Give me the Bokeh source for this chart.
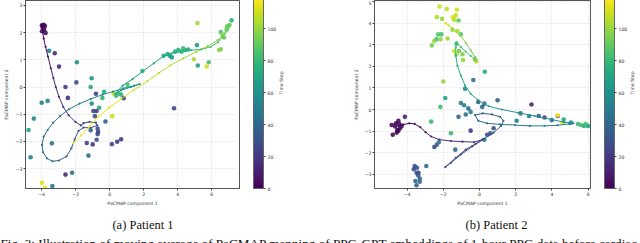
from bokeh.plotting import figure
from bokeh.models import (ColumnDataSource, LinearColorMapper, ColorBar, FixedTicker,
                          LinearAxis, Range1d, GlobalInlineStyleSheet)
from bokeh.layouts import column, row
from bokeh.palettes import Viridis256
from bokeh.core.properties import value
from bokeh.embed import file_html
from bokeh.resources import INLINE

T_LOW, T_HIGH = 0, 119
CB_TICKS = [0, 20, 40, 60, 80, 100]
X_TICKS = [-4, -2, 0, 2, 4, 6]
P1_Y_TICKS = [-3, -2, -1, 0, 1, 2, 3]
P2_Y_TICKS = [-3, -2, -1, 0, 1, 2, 3, 4, 5]

# ---------------- Patient 1 ----------------
p1_ma_x = [-3.98, -3.94, -3.88, -3.77, -3.63, -3.46, -3.31, -3.17, -2.98, -2.73, -2.41, -2.02, -1.69,
           -1.54, -1.19, -0.81, -0.73, -1.12, -1.54, -1.83, -2.06, -2.25, -2.54, -2.98, -3.37, -3.69,
           -3.92, -3.98, -3.88, -3.65, -3.33, -2.92, -2.41, -1.77, -1.12, -0.43, 0.19, 0.80, 1.44,
           1.76, 1.25, 0.67, 0.34, 0.76, 1.34, 1.92, 2.59, 3.17, 3.65, 4.22, 4.80, 5.38, 5.95, 6.37,
           6.62, 6.82, 7.01, 7.10, 6.95, 6.72, 6.34, 5.76, 5.09, 4.32, 3.55, 2.88, 2.21, 1.44, 0.67,
           -0.04, -0.68, -1.19, -1.69, -2.12]
p1_ma_y = [2.27, 2.02, 1.78, 1.48, 1.12, 0.69, 0.33, 0.00, -0.36, -0.73, -1.04, -1.28, -1.41,
           -1.33, -1.28, -1.31, -1.41, -1.50, -1.49, -1.61, -1.92, -2.25, -2.55, -2.70, -2.73, -2.62,
           -2.40, -2.13, -1.82, -1.58, -1.31, -1.07, -0.82, -0.61, -0.44, -0.28, -0.17, -0.05, 0.05,
           0.11, 0.00, -0.12, -0.24, 0.05, 0.29, 0.57, 0.87, 1.14, 1.24, 1.30, 1.36, 1.38, 1.48, 1.65,
           1.84, 2.06, 2.23, 2.30, 2.08, 1.90, 1.72, 1.50, 1.30, 1.05, 0.79, 0.51, 0.21, -0.10, -0.44,
           -0.76, -1.09, -1.45, -1.79, -2.06]
p1_ma_t = [0, 2, 4, 6, 8, 10, 12, 14, 16, 18, 20, 22, 24,
           26, 27, 28, 29, 30, 31, 32, 34, 36, 38, 40, 41, 42,
           43, 44, 45, 46, 47, 48, 49, 51, 53, 55, 57, 59, 61,
           62, 63, 64, 65, 66, 67, 68, 70, 72, 74, 76, 78, 80, 82, 84,
           86, 88, 90, 92, 94, 96, 98, 100, 102, 104, 106, 108, 110, 112, 114,
           115, 116, 117, 118, 119]

p1_pt_x = [-3.98, -3.88, -3.81, -3.94, -3.85, -3.77, -3.98,
           -3.56, -3.23, -2.98, -1.93, -1.96, -2.60, -2.46,
           -1.06, -1.12, -0.33, -0.43, -0.81, -0.62,
           -4.00, -3.65, -4.46, -4.77, -4.65, -3.40,
           -0.96, -0.77, -0.87, -0.71, -0.68, -0.71,
           -1.12, -0.25, -0.77, -1.35, -1.00, -1.25,
           -2.60, -2.21, -3.37, -3.98, -3.81,
           0.13, 0.44, 0.67, 0.15, 0.82, 0.23,
           3.78, 1.05, 1.92, 0.38, 0.53, 0.67,
           3.17, 3.40, 3.55, 3.65, 3.84, 4.03, 4.22, 4.42, 4.32, 4.61,
           5.13, 5.16, 7.16, 6.91, 7.03, 6.87, 6.53, 6.62, 6.72, 6.43, 6.53,
           4.95, 5.18, 5.82, 5.70, -1.06]
p1_pt_y = [2.27, 2.29, 2.24, 2.18, 2.11, 1.99, 2.05,
           1.33, 1.24, 0.75, 0.91, 0.17, 0.00, -0.40,
           0.32, 0.00, -0.18, -0.40, -0.25, -0.76,
           -0.58, -0.51, -1.16, -1.58, -2.58, -2.07,
           -0.88, -0.88, -1.07, -1.53, -1.65, -1.73,
           -1.59, -1.27, -1.94, -2.06, -2.11, -2.52,
           -3.22, -3.15, -3.64, -3.52, -3.70,
           -2.10, -2.01, -1.92, -1.07, -0.41, -0.25,
           -0.78, 0.08, 0.59, -0.32, -0.24, -0.28,
           1.15, 1.21, 1.14, 1.09, 1.30, 1.36, 1.30, 1.36, 1.42, 1.38,
           1.54, 2.35, 2.45, 2.23, 2.27, 2.15, 2.02, 1.93, 1.82, 1.36, 1.39,
           1.02, 0.79, 0.91, 0.75, -0.61]
p1_pt_t = [1, 2, 3, 0, 4, 5, 6,
           55, 12, 15, 60, 28, 20, 18,
           65, 72, 75, 78, 25, 74,
           52, 55, 55, 70, 52, 45,
           25, 22, 27, 30, 28, 26,
           38, 35, 32, 22, 20, 42,
           15, 45, 48, 112, 116,
           28, 22, 20, 110, 25, 108,
           25, 85, 80, 80, 82, 78,
           70, 72, 68, 66, 74, 76, 78, 75, 80, 72,
           65, 102, 78, 88, 92, 95, 86, 98, 90, 100, 96,
           104, 68, 84, 110, 58]

# ---------------- Patient 2 ----------------
p2_ma_x = [-4.48, -4.21, -3.88, -3.58, -3.27, -2.98, -2.67, -2.21, -1.58, -0.94, -0.31, 0.15,
           -0.22, -0.76, -1.31, -1.89, -1.58, -1.03, -0.40, 0.24, 0.78, 1.20, 1.32, 1.14, 0.69,
           0.18, -0.25, -0.07, 0.42, 1.14, 1.96, 2.78, 3.59, 4.32, 4.95, 5.19, 4.68, 3.96, 3.05,
           2.14, 1.23, 0.51, -0.07, -0.49, -0.80, -1.03, -1.22, -1.31, -1.31, -1.27, -1.03, -0.76,
           -0.49, -0.22, -0.25, -0.49, -0.76, -1.03, -1.31, -1.52, -1.71, -1.85, -1.89]
p2_ma_y = [-0.76, -0.70, -0.64, -0.67, -0.82, -1.05, -1.25, -1.40, -1.46, -1.49, -1.51, -1.40,
           -1.59, -1.86, -2.24, -2.67, -2.47, -2.09, -1.71, -1.37, -1.07, -0.76, -0.52, -0.34, -0.23,
           -0.18, -0.26, -0.52, -0.64, -0.69, -0.72, -0.76, -0.76, -0.73, -0.67, -0.64, -0.59, -0.46,
           -0.30, -0.15, 0.00, 0.15, 0.43, 0.73, 1.11, 1.57, 2.03, 2.48, 2.87, 3.09, 2.90, 2.68,
           2.48, 2.29, 2.44, 2.74, 3.09, 3.40, 3.63, 3.78, 3.90, 3.99, 4.02]
p2_ma_t = [0, 2, 4, 6, 8, 10, 12, 14, 16, 18, 20, 21,
           22, 23, 24, 25, 26, 27, 28, 30, 32, 34, 35, 36, 37,
           38, 39, 40, 42, 44, 46, 48, 50, 52, 54, 56, 58, 60, 62,
           64, 66, 68, 70, 71, 72, 74, 76, 78, 80, 82, 84, 86,
           88, 90, 92, 95, 98, 101, 104, 107, 110, 113, 116]

p2_pt_x = [-2.21, -1.81, -1.25, -2.36, -2.07, -1.49, -1.31, -1.40, -1.16,
           -2.29, -2.38, -2.11, -2.16, -2.63, -2.50, -1.76, -1.49, -1.22, -1.03,
           -1.27, -1.13, -0.94, -0.91, -1.27, -1.40, -0.25, -0.18,
           0.29, -0.34, -2.00, -0.80, -1.89, -2.16, -2.67,
           -1.03, -0.85, -0.62, -1.16, -0.76, -0.49, -0.07, 0.15, 0.27, 1.00,
           -0.49, -1.58, 2.87, 2.27, 2.74, 3.27, 3.59, 3.99, 4.32, 4.32, 4.59, 4.65,
           5.44, 5.59, 5.77, 5.99, 5.86, 5.05, 2.05,
           -4.85, -4.66, -4.54, -4.39, -4.61, -4.43, -4.79, -4.48, -4.30, -4.57, -4.48,
           -4.12, -2.49, -2.36, -2.25, -1.34, 0.27,
           -3.58, -3.45, -3.63, -3.48, -3.39, -3.30, -3.54, -3.30, -3.48, -3.37, -2.94,
           0.78, 0.60, 0.42]
p2_pt_y = [4.77, 4.66, 4.62, 4.28, 4.20, 4.27, 4.36, 4.16, 4.12,
           3.48, 3.25, 3.48, 3.25, 2.97, 3.17, 3.29, 3.70, 3.63, 3.48,
           3.05, 2.71, 2.56, 2.29, 2.56, 2.71, 2.33, 2.23,
           1.75, 1.37, 1.30, 0.96, 0.53, 0.12, -0.56,
           0.30, 0.20, 0.05, -0.34, -0.23, -0.11, 0.35, 0.12, 0.27, 0.43,
           -0.98, -1.10, 0.23, -0.18, -0.30, -0.30, -0.37, -0.49, -0.30, -0.26, -0.61, -0.46,
           -0.67, -0.72, -0.76, -0.76, -0.67, -0.61, -0.52,
           -0.72, -0.79, -0.95, -0.87, -0.64, -0.67, -1.17, -0.98, -0.76, -1.07, -0.52,
           -0.34, -1.74, -1.63, -1.52, -1.86, -1.40,
           -2.62, -2.70, -2.77, -2.93, -3.05, -3.20, -3.31, -3.35, -3.51, -2.93, -2.62,
           -0.87, -1.10, -1.17]
p2_pt_t = [110, 108, 112, 105, 100, 115, 108, 106, 90,
           88, 80, 85, 100, 95, 100, 102, 98, 105, 88,
           82, 92, 96, 100, 104, 110, 95, 105,
           75, 45, 100, 55, 70, 85, 80,
           50, 55, 45, 40, 40, 50, 35, 40, 42, 38,
           20, 80, 15, 45, 50, 35, 25, 40, 30, 119, 112, 70,
           80, 85, 75, 70, 82, 60, 50,
           2, 1, 4, 3, 0, 5, 3, 2, 6, 1, 4,
           10, 25, 38, 45, 40, 55,
           30, 32, 28, 35, 33, 36, 38, 40, 37, 26, 45,
           30, 32, 28]

MINUS = "\u2212"
FONT = "DejaVu Sans"
TXT = "#333333"


def fmt(ticks):
    return {t: (MINUS + str(abs(t)) if t < 0 else str(t)) for t in ticks}


def make_panel(ma_x, ma_y, ma_t, pt_x, pt_y, pt_t, xr, yr, yticks, left, right, ylab_standoff):
    p = figure(width=320, height=208, x_range=Range1d(*xr), y_range=Range1d(*yr),
               output_backend="svg", toolbar_location=None,
               min_border_left=left, min_border_right=right, min_border_top=0, min_border_bottom=18)
    p.background_fill_color = "white"
    p.border_fill_color = "white"
    p.outline_line_color = "#555555"
    p.outline_line_width = 1

    p.xaxis.ticker = FixedTicker(ticks=X_TICKS)
    p.yaxis.ticker = FixedTicker(ticks=yticks)
    p.xaxis.major_label_overrides = fmt(X_TICKS)
    p.yaxis.major_label_overrides = fmt(yticks)
    p.xaxis.axis_label = "PaCMAP component 1"
    p.yaxis.axis_label = "PaCMAP component 2"
    for ax in (p.xaxis, p.yaxis):
        ax.axis_label_text_font = FONT
        ax.axis_label_text_font_size = "4.6px"
        ax.axis_label_text_font_style = "normal"
        ax.axis_label_text_color = TXT
        ax.major_label_text_font = FONT
        ax.major_label_text_font_size = "4.6px"
        ax.major_label_text_color = TXT
        ax.major_tick_out = 2
        ax.major_tick_in = 0
        ax.major_tick_line_color = "#444444"
        ax.minor_tick_line_color = None
        ax.axis_line_color = "#555555"
        ax.major_label_standoff = 1
    p.xaxis.axis_label_standoff = 2
    p.yaxis.axis_label_standoff = ylab_standoff

    p.grid.grid_line_color = "#cfcfcf"
    p.grid.grid_line_dash = "1 2"
    p.grid.grid_line_width = 0.8

    mapper = LinearColorMapper(palette=Viridis256, low=T_LOW, high=T_HIGH)

    pts = ColumnDataSource(dict(x=pt_x, y=pt_y, t=pt_t))
    p.scatter("x", "y", source=pts, size=4.6, line_color=None,
              fill_color={"field": "t", "transform": mapper}, fill_alpha=0.9)

    seg = ColumnDataSource(dict(x0=ma_x[:-1], y0=ma_y[:-1], x1=ma_x[1:], y1=ma_y[1:], t=ma_t[:-1]))
    p.segment("x0", "y0", "x1", "y1", source=seg, line_width=1.0,
              line_color={"field": "t", "transform": mapper})
    ma = ColumnDataSource(dict(x=ma_x, y=ma_y, t=ma_t))
    p.scatter("x", "y", source=ma, size=2.2, line_color=None,
              fill_color={"field": "t", "transform": mapper})

    cb = ColorBar(color_mapper=mapper, ticker=FixedTicker(ticks=CB_TICKS), width=10, height=190,
                  padding=0, margin=0, location=(14, 0), orientation="vertical",
                  major_label_text_font=FONT, major_label_text_font_size="4.6px",
                  major_label_text_color=TXT, major_tick_out=2, major_tick_in=0,
                  major_tick_line_color="#444444", minor_tick_line_color=None,
                  bar_line_color="#666666", label_standoff=2,
                  background_fill_alpha=0, border_line_color=None)
    p.add_layout(cb, "right")

    # colour-bar caption drawn as an extra, tick-less axis label to the right of the bar
    cap_ax = LinearAxis(ticker=FixedTicker(ticks=[]), axis_label="Time Step",
                        axis_line_color=None, major_tick_line_color=None,
                        minor_tick_line_color=None, major_label_text_font_size="0px",
                        axis_label_text_font=FONT, axis_label_text_font_size="4.6px",
                        axis_label_text_font_style="normal", axis_label_text_color=TXT,
                        axis_label_standoff=2, major_label_standoff=0,
                        major_tick_out=0, major_tick_in=0,
                        axis_label_orientation=1.5707963)
    p.add_layout(cap_ax, "right")
    return p


p1 = make_panel(p1_ma_x, p1_ma_y, p1_ma_t, p1_pt_x, p1_pt_y, p1_pt_t,
                (-4.95, 7.63), (-3.73, 3.18), P1_Y_TICKS, 21, 81, 4)
p2 = make_panel(p2_ma_x, p2_ma_y, p2_ma_t, p2_pt_x, p2_pt_y, p2_pt_t,
                (-5.8, 6.13), (-3.66, 5.05), P2_Y_TICKS, 54, 47, 3)

cap = figure(width=640, height=35, x_range=Range1d(0, 640), y_range=Range1d(0, 35),
             output_backend="svg", toolbar_location=None,
             min_border_left=0, min_border_right=0, min_border_top=0, min_border_bottom=0)
cap.axis.visible = False
cap.grid.visible = False
cap.outline_line_color = None
SERIF = value("Liberation Serif")
cap.text(x=[142.5, 496], y=[18.5, 18.5], text=["(a) Patient 1", "(b) Patient 2"],
         text_font=SERIF, text_font_size="12.5px", text_align="center",
         text_baseline="alphabetic", text_color="#111111")
cap.text(x=[0], y=[0.5],
         text=["Fig. 3: Illustration of moving average of PaCMAP mapping of PPG-GPT embeddings of 1-hour PPG data before cardiac"],
         text_font=SERIF, text_font_size="13.2px", text_align="left",
         text_baseline="alphabetic", text_color="#111111")

layout = column(row(p1, p2, spacing=0), cap, spacing=0)
layout.stylesheets = [GlobalInlineStyleSheet(css="body{margin:0 !important;}")]

open("out.html", "w").write(file_html(layout, INLINE))
